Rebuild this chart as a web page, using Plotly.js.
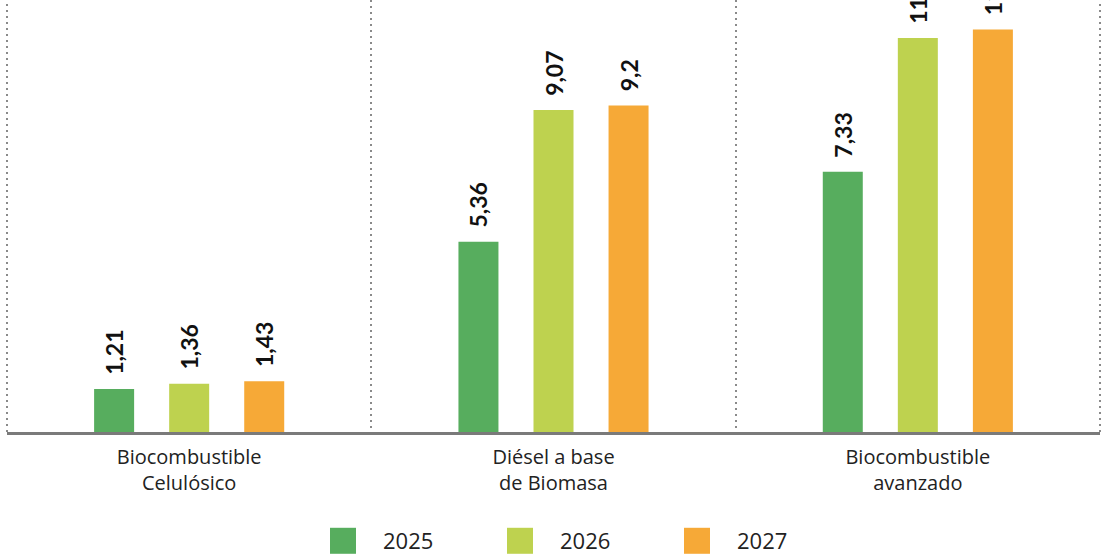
<!DOCTYPE html>
<html>
<head>
<meta charset="utf-8">
<script src="https://cdn.plot.ly/plotly-3.0.1.min.js"></script>
<style>html,body{margin:0;padding:0;background:#fff;}#chart{width:1101px;height:556px;}</style>
</head>
<body>
<div id="chart"></div>
<script>
const categories = ['Biocombustible<br>Celulósico', 'Diésel a base<br>de Biomasa', 'Biocombustible<br>avanzado'];
const seriesNames = ['2025', '2026', '2027'];
const values2025 = [1.21, 5.36, 7.33];
const values2026 = [1.36, 9.07, 11.1];
const values2027 = [1.43, 9.2, 11.34];
const colors = ['#57ad5e', '#bed24f', '#f6a937'];

const seriesValues = [values2025, values2026, values2027];
const traces = seriesValues.map((vals, i) => ({
  type: 'bar',
  name: seriesNames[i],
  x: categories,
  y: vals,
  marker: {color: colors[i], line: {width: 0}},
  texttemplate: '\u00a0\u00a0%{y}',
  textposition: 'outside',
  textangle: -90,
  constraintext: 'none',
  cliponaxis: true,
  textfont: {family: 'Lato, sans-serif', size: 23, color: '#111', weight: 'bold'},
  hoverinfo: 'none'
}));

const layout = {
  width: 1101, height: 556,
  margin: {l: 7, r: 1, t: 0, b: 124},
  paper_bgcolor: '#fff', plot_bgcolor: '#fff',
  separators: ',.',
  font: {family: 'Open Sans, sans-serif', color: '#222'},
  barmode: 'group',
  bargap: 0.382,
  bargroupgap: 0.467,
  xaxis: {
    type: 'category',
    tickson: 'boundaries',
    showgrid: true, gridcolor: '#8a8a8a', griddash: '2px,4px', gridwidth: 2,
    showline: true, linecolor: '#7a7a7a', linewidth: 2.5,
    ticks: '', tickfont: {size: 20, color: '#222'}, ticklabelstandoff: 5,
    fixedrange: true
  },
  yaxis: {range: [0, 12.17], visible: false, showgrid: false, zeroline: false, fixedrange: true},
  shapes: [0, 1].map(px => ({
    type: 'line', xref: 'paper', yref: 'paper', x0: px, x1: px, y0: 0, y1: 1,
    line: {color: '#8a8a8a', width: 2, dash: '2px,4px'}, layer: 'below'
  })),
  showlegend: true,
  legend: {
    orientation: 'h', x: 0.2708, xanchor: 'left', yref: 'container', y: 0.027, yanchor: 'middle',
    font: {size: 22, color: '#222'}, entrywidth: 92, itemwidth: 70
  }
};

Plotly.newPlot('chart', traces, layout, {displayModeBar: false, staticPlot: true}).then(() => {
  document.querySelectorAll('.legendpoints path').forEach(p => p.setAttribute('d', 'M13,13H-13V-13H13Z'));
});
</script>
</body>
</html>
